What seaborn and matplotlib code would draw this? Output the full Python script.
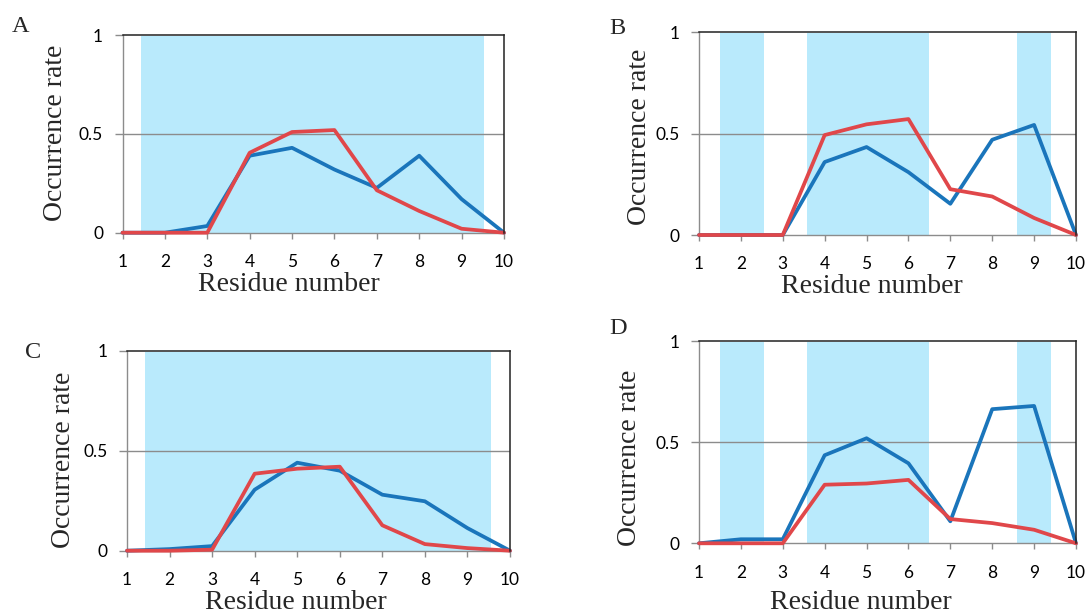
import matplotlib
matplotlib.use("Agg")
import matplotlib.pyplot as plt
import numpy as np
import pandas as pd
import seaborn as sns

# Residue positions and occurrence rates
residues = [1, 2, 3, 4, 5, 6, 7, 8, 9, 10]

a_blue = [0, 0, 0.034, 0.39, 0.43, 0.32, 0.227, 0.39, 0.17, 0]
a_red = [0, 0, 0, 0.405, 0.51, 0.52, 0.215, 0.11, 0.02, 0]

b_blue = [0, 0, 0, 0.36, 0.434, 0.31, 0.154, 0.47, 0.543, 0]
b_red = [0, 0, 0, 0.493, 0.546, 0.572, 0.226, 0.19, 0.084, 0]

c_blue = [0, 0.008, 0.023, 0.305, 0.44, 0.40, 0.28, 0.247, 0.113, 0]
c_red = [0, 0, 0.005, 0.385, 0.41, 0.42, 0.127, 0.033, 0.013, 0]

d_blue = [0, 0.02, 0.02, 0.436, 0.52, 0.396, 0.109, 0.664, 0.68, 0]
d_red = [0, 0, 0, 0.29, 0.296, 0.314, 0.12, 0.10, 0.067, 0]

# shaded residue ranges
a_bands = [(1.44, 9.52)]
b_bands = [(1.5, 2.56), (3.57, 6.5), (8.6, 9.4)]
c_bands = [(1.42, 9.55)]
d_bands = [(1.5, 2.56), (3.57, 6.5), (8.6, 9.4)]

y_ticks = [0, 0.5, 1]
y_tick_labels = ["0", "0.5", "1"]

blue = "#1a75bb"
red = "#e0474a"
band_color = "#b9eafc"
grey = "#8c8c8c"

sns.set_theme(style="white")
plt.rcParams["font.family"] = ["Lato", "DejaVu Sans"]

fig = plt.figure(figsize=(10.88, 6.16), dpi=100)

W, H = 1088.0, 616.0


def px_axes(left, top, right, bottom):
    return fig.add_axes([left / W, 1 - bottom / H, (right - left) / W, (bottom - top) / H])


panels = [
    # letter, blue, red, bands, axes box (px), letter pos, ylabel pos, xlabel pos, xtick pad
    ("A", a_blue, a_red, a_bands, (122.5, 35.3, 504, 232.7), (21, 26), (56, 133), (289, 291), 11),
    ("B", b_blue, b_red, b_bands, (699, 32.3, 1076, 235), (617, 28), (639, 137), (872, 293), 11),
    ("C", c_blue, c_red, c_bands, (127, 350.7, 510, 550.7), (33, 352), (64, 460), (296, 609), 11),
    ("D", d_blue, d_red, d_bands, (699, 341.3, 1076, 543.3), (618, 328), (629, 458), (861, 609), 11.5),
]

serif = ["Liberation Serif", "DejaVu Serif"]

for letter, yb, yr, bands, box, lpos, ylpos, xlpos, xpad in panels:
    ax = px_axes(*box)
    for lo, hi in bands:
        ax.axvspan(lo, hi, ymin=0, ymax=0.995, color=band_color, lw=0, zorder=0)
    ax.axhline(0.5, color=grey, lw=1.0, zorder=1)

    df = pd.DataFrame({
        "residue": residues * 2,
        "rate": yb + yr,
        "series": ["blue"] * len(residues) + ["red"] * len(residues),
    })
    sns.lineplot(data=df, x="residue", y="rate", hue="series",
                 palette={"blue": blue, "red": red}, linewidth=2.7,
                 legend=False, ax=ax, zorder=3, clip_on=False)

    ax.set_xlim(1, 10)
    ax.set_ylim(0, 1)
    ax.set_xticks(residues)
    ax.set_xticklabels([str(r) for r in residues])
    ax.set_yticks(y_ticks)
    ax.set_yticklabels(y_tick_labels)
    ax.set_xlabel("")
    ax.set_ylabel("")
    ax.grid(False)
    ax.set_facecolor("white")

    for side in ["left", "bottom"]:
        ax.spines[side].set_color(grey)
        ax.spines[side].set_linewidth(1.0)
    for side in ["top", "right"]:
        ax.spines[side].set_color("#222222")
        ax.spines[side].set_linewidth(1.1)
        ax.spines[side].set_zorder(4)

    ax.tick_params(axis="x", direction="out", length=4, width=1, color=grey,
                   pad=xpad, labelsize=12.5, labelcolor="black", bottom=True)
    ax.tick_params(axis="y", direction="out", length=6, width=1, color=grey,
                   pad=8, labelsize=12.5, labelcolor="black", left=True)

    fig.text(lpos[0] / W, 1 - lpos[1] / H, letter, family=serif, fontsize=17.5,
             ha="center", va="center")
    fig.text(ylpos[0] / W, 1 - ylpos[1] / H, "Occurrence rate", family=serif,
             fontsize=20, rotation=90, ha="center", va="center")
    fig.text(xlpos[0] / W, 1 - xlpos[1] / H, "Residue number", family=serif,
             fontsize=20, ha="center", va="baseline")

fig.savefig("out.png", dpi=100)
